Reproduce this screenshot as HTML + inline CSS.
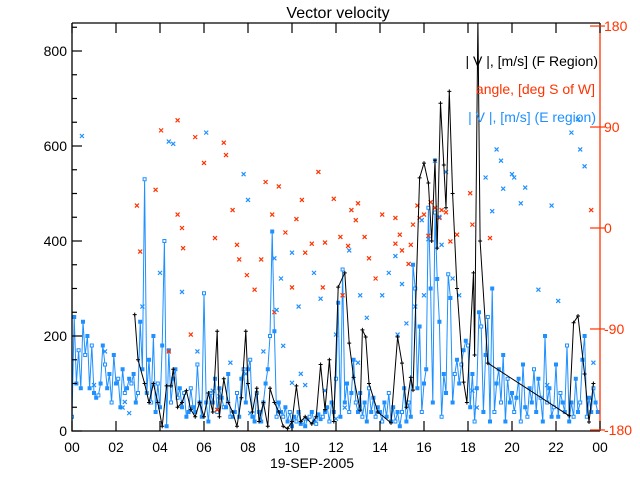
<!DOCTYPE html>
<html><head><meta charset="utf-8"><style>
body{margin:0;background:#fff}
svg{display:block;font-family:"Liberation Sans",sans-serif}
</style></head><body>
<svg id="chart" width="640" height="480" viewBox="0 0 640 480" xmlns="http://www.w3.org/2000/svg">
<rect width="640" height="480" fill="#fff"/>
<text x="338" y="18" text-anchor="middle" font-size="16" fill="#000">Vector velocity</text>
<defs><clipPath id="pc"><rect x="72" y="23" width="528" height="408"/></clipPath></defs>
<g id="plot" clip-path="url(#pc)"></g>
<g id="axes"></g>
<text x="598" y="66" text-anchor="end" font-size="14" fill="#000">| V |, [m/s] (F Region)</text>
<text x="595" y="94" text-anchor="end" font-size="14" fill="#ff3300">angle, [deg S of W]</text>
<text x="596" y="122" text-anchor="end" font-size="14" fill="#1e90ff">| V |, [m/s] (E region)</text>
<text x="312" y="468" text-anchor="middle" font-size="14" fill="#000">19-SEP-2005</text>
</svg>
<script>
const fTimes=[2.85,3.0,3.3,3.5,3.7,3.9,4.1,4.3,4.5,4.6,4.8,5.0,5.2,5.4,5.6,5.8,6.0,6.2,6.4,6.6,6.7,6.9,7.1,7.3,7.5,7.7,7.9,8.0,8.2,8.4,8.5,8.7,8.9,9.0,9.2,9.4,9.6,9.8,10.0,10.2,10.4,10.6,10.9,11.1,11.3,11.5,11.7,11.9,12.1,12.4,12.6,12.8,13.1,13.2,13.35,13.5,13.9,14.5,14.8,15.0,15.2,15.4,15.5,15.8,16.0,16.2,16.35,16.5,16.6,16.75,16.9,17.0,17.15,17.3,17.5,17.8,17.95,18.25,18.3,18.45,18.55,18.9,22.6,22.8,23.0,23.3,23.5,23.7];
const fValues=[245,150,100,60,100,60,10,95,95,130,50,60,85,45,30,60,30,80,40,210,30,110,60,40,10,70,210,100,40,90,20,60,10,90,60,40,10,5,20,95,20,30,15,30,140,45,150,20,303,333,185,113,44,213,198,100,40,17,198,143,50,113,86,533,564,522,400,570,385,690,560,470,715,500,300,103,60,333,160,870,400,143,32,228,242,120,19,100];
const eStart=0, eStep=0.1;
const eValues=[30,240,100,170,90,230,160,200,90,180,
80,70,75,100,180,140,90,120,60,160,
100,110,50,130,80,90,110,100,120,60,
80,230,130,530,80,150,60,200,40,100,
50,180,400,10,170,60,110,130,70,90,
50,80,30,40,90,50,40,140,60,30,
290,60,20,80,60,110,40,90,70,50,
50,120,30,30,40,80,30,110,130,60,
130,150,30,20,80,40,20,60,100,130,
200,420,210,30,60,40,30,50,20,40,
10,30,20,40,15,20,10,25,30,40,
20,15,35,25,30,40,50,20,60,40,
110,270,30,340,60,100,40,80,150,60,
40,80,30,60,20,90,40,70,30,50,
40,20,60,30,80,20,50,20,40,10,
40,90,20,60,30,350,300,90,220,40,
100,130,470,300,60,460,320,230,30,120,
80,330,280,60,120,150,100,140,170,190,
180,50,120,20,90,250,220,40,160,240,
20,300,40,100,130,60,160,20,110,60,
80,40,70,110,20,140,50,30,90,60,
130,40,110,70,20,200,60,90,30,50,
140,30,80,60,40,180,20,60,30,110,
40,60,150,200,30,70,40,90,60,40];
const redTimes=[4.05,2.95,3.1,4.8,4.8,5.0,5.05,5.6,6.0,6.5,6.9,7.0,7.3,7.5,7.6,7.95,8.3,8.6,8.8,9.1,9.4,9.7,10.0,10.2,10.45,10.6,10.9,11.2,11.4,11.5,11.9,12.2,12.55,12.7,12.9,13.0,13.3,13.5,13.8,14.1,14.7,14.7,14.9,15.0,15.3,15.4,15.5,15.7,15.8,16.0,16.2,16.3,16.5,16.7,16.8,17.0,17.2,17.5,18.1,18.2,19.0,23.6,3.8,6.6,4.4,5.4,9.2,12.3];
const redAngles=[87,20,-21,96,12,0,-18,81,58,-9,76,65,16,-15,-28,-42,-55,-28,41,12,37,-4,-53,8,25,-22,-14,50,-53,-13,26,-8,-16,16,7,22,-8,-27,-45,12,9,-14,-6,-20,-32,-15,3,20,9,12,-7,23,18,9,16,14,-12,-6,31,3,-9,16,34,-162,-110,-95,-75,-60];
const blueTimes=[0.45,1.0,1.5,2.3,2.4,2.6,3.2,4.0,4.4,4.6,5.0,5.7,6.1,6.4,6.7,7.2,7.9,8.1,8.7,9.3,9.6,10.0,10.4,10.6,11.5,12.0,12.4,13.0,9.2,9.5,10.0,10.3,11.0,11.3,12.0,12.6,13.1,13.4,14.1,14.8,15.0,15.2,14.4,14.7,15.6,16.0,16.2,16.5,16.7,17.0,17.3,17.6,18.2,18.4,18.8,19.1,19.3,19.5,19.6,20.0,20.6,20.1,20.4,21.2,21.6,21.8,22.1,22.7,23.0,23.1,23.3,23.7,7.8,8.0,15.9,16.8];
const blueAngles=[82,-140,-110,-160,-155,-165,-70,-40,77,75,-57,-110,85,-145,-150,-120,-130,-165,-110,-73,-105,-138,-130,-140,-145,-170,-160,-120,-27,-45,-22,-70,-40,-63,-95,-20,-60,-80,-60,-95,-50,-85,-40,-25,-70,-60,-10,60,10,50,-45,-60,-145,-160,45,15,70,60,35,48,36,45,22,-55,-140,20,-65,85,97,70,55,-120,48,25,7,-15];
const xTicks=["00","02","04","06","08","10","12","14","16","18","20","22","00"];
const yTicks=[0,200,400,600,800];
const rTicks=[-180,-90,0,90,180];

const NS="http://www.w3.org/2000/svg";
const X0=72,X1=600,YB=431,YT=23;
const xs=h=>X0+h*(X1-X0)/24;
const ys=v=>YB-v*0.475;
const ya=d=>228-d*1.122;
const plot=document.getElementById('plot'),axes=document.getElementById('axes');
function mk(tag,attrs,parent){const e=document.createElementNS(NS,tag);for(const k in attrs)e.setAttribute(k,attrs[k]);parent.appendChild(e);return e;}
function cross(x,y,c,parent){return mk('path',{d:`M${x-2},${y-2}L${x+2},${y+2}M${x+2},${y-2}L${x-2},${y+2}`,stroke:c,'stroke-width':1.2,fill:'none'},parent);}

let pts=eValues.map((v,i)=>xs(eStart+i*eStep).toFixed(1)+','+ys(v).toFixed(1)).join(' ');
const eLine=mk('polyline',{points:pts,fill:'none',stroke:'#1e90ff','stroke-width':1},plot);


eValues.forEach((v,i)=>{const x=xs(eStart+i*eStep),y=ys(v);
 const r=mk('rect',{x:x-1.5,y:y-1.5,width:3,height:3,fill:i%3==0?'#fff':'#1e90ff',stroke:'#1e90ff','stroke-width':1},plot);
 
 });
redTimes.forEach((t,i)=>{const c=cross(xs(t),ya(redAngles[i]),'#ff3300',plot);
 
 });
blueTimes.forEach((t,i)=>{const c=cross(xs(t),ya(blueAngles[i]),'#1e90ff',plot);
 
 });
pts=fValues.map((v,i)=>xs(fTimes[i]).toFixed(1)+','+ys(v).toFixed(1)).join(' ');
const fLine=mk('polyline',{points:pts,fill:'none',stroke:'#000','stroke-width':1},plot);


fValues.forEach((v,i)=>{const x=xs(fTimes[i]),y=ys(v);
 const p=mk('path',{d:`M${x-2},${y}L${x+2},${y}M${x},${y-2}L${x},${y+2}`,stroke:'#000','stroke-width':1},plot);
 
 });

mk('path',{d:`M${X0},${YT}L${X1},${YT}M${X0},${YT}L${X0},${YB}L${X1},${YB}`,stroke:'#000','stroke-width':1.3,fill:'none'},axes);
mk('path',{d:`M${X1},${YT}L${X1},${YB}`,stroke:'#ff3300','stroke-width':1.3},axes);
xTicks.forEach((l,i)=>{const x=xs(i*2);
 mk('path',{d:`M${x},${YB}L${x},${YB-10}M${x},${YT}L${x},${YT+10}`,stroke:'#000','stroke-width':1.2},axes);
 const t=mk('text',{x:x,y:452,'text-anchor':'middle','font-size':14,fill:'#000'},axes);t.textContent=l;
 
 });
for(let v=0;v<=850;v+=50){const y=ys(v);mk('path',{d:`M${X0},${y}L${X0+(v%200==0?10:5)},${y}`,stroke:'#000','stroke-width':1.2},axes);}
yTicks.forEach(v=>{const t=mk('text',{x:67,y:ys(v)+5,'text-anchor':'end','font-size':14,fill:'#000'},axes);t.textContent=v;
 
 });
rTicks.forEach(d=>{const y=ya(d);mk('path',{d:`M${X1-10},${y}L${X1+5},${y}`,stroke:'#ff3300','stroke-width':1.2},axes);
 const t=mk('text',{x:604,y:y+5,'font-size':14,fill:'#ff3300'},axes);t.textContent=d;
 
 });
</script>
</body></html>
